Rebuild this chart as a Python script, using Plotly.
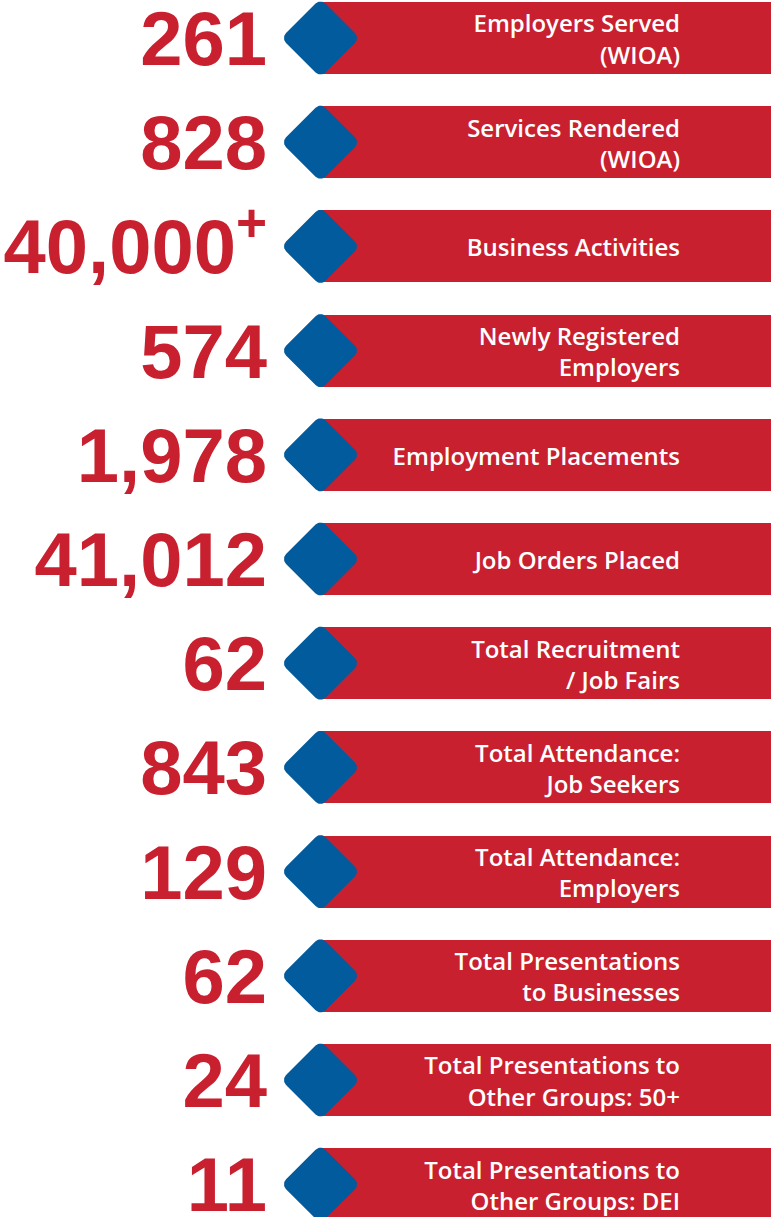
import numpy as np
import plotly.graph_objects as go

# ---- data ----
values = ["261", "828", "40,000<sup>+</sup>", "574", "1,978", "41,012", "62",
          "843", "129", "62", "24", "11"]
labels = ["Employers Served<br>(WIOA)",
          "Services Rendered<br>(WIOA)",
          "Business Activities",
          "Newly Registered<br>Employers",
          "Employment Placements",
          "Job Orders Placed",
          "Total Recruitment<br>/ Job Fairs",
          "Total Attendance:<br>Job Seekers",
          "Total Attendance:<br>Employers",
          "Total Presentations<br>to Businesses",
          "Total Presentations to<br>Other Groups: 50+",
          "Total Presentations to<br>Other Groups: DEI"]

# ---- styling / layout constants ----
RED = "#C9202F"
BLUE = "#015B9D"
W, H = 771, 1217
ROW_PX = 104.2          # pixels per row unit
TOP_PX = 38             # centre of first row in pixels
BAR_PX = 72             # bar height in pixels
X_NUM = 267             # right edge of numbers
X_DIA = 320.5           # diamond centre
X_LAB = 680             # right edge of labels
NUM_SHIFT_PX = 8        # optical shift of digits (cap-centre vs text box)
LAB_SHIFT_PX = 4

n = len(values)
idx = np.arange(n)

y_top = -TOP_PX / ROW_PX
y_bot = (H - TOP_PX) / ROW_PX

fig = go.Figure()

# red banners
fig.add_trace(go.Bar(
    orientation="h", y=idx, x=[W + 20 - X_DIA] * n, base=X_DIA,
    width=BAR_PX / ROW_PX, marker=dict(color=RED, line=dict(width=0)),
    hoverinfo="skip", showlegend=False))

# rounded diamonds
def rounded_diamond(tip=36.5, r=7.0, npts=12):
    h = (tip - r) / np.sqrt(2) + r
    c = h - r
    pts = []
    for cx, cy, a0 in [(c, c, 0), (-c, c, 90), (-c, -c, 180), (c, -c, 270)]:
        for t in np.linspace(a0, a0 + 90, npts):
            tr = np.radians(t)
            pts.append((cx + r * np.cos(tr), cy + r * np.sin(tr)))
    pts.append(pts[0])
    pts = np.array(pts)
    rot = np.radians(45)
    xr = pts[:, 0] * np.cos(rot) - pts[:, 1] * np.sin(rot)
    yr = pts[:, 0] * np.sin(rot) + pts[:, 1] * np.cos(rot)
    return xr, yr

dx, dy = rounded_diamond()
xs, ys = [], []
for i in idx:
    xs += list(X_DIA + dx) + [None]
    ys += list(i + dy / ROW_PX) + [None]
fig.add_trace(go.Scatter(x=xs, y=ys, mode="lines", fill="toself",
                         fillcolor=BLUE, line=dict(width=0, color=BLUE),
                         hoverinfo="skip", showlegend=False))

# big numbers
fig.add_trace(go.Scatter(
    x=[X_NUM] * n, y=idx + NUM_SHIFT_PX / ROW_PX, mode="text", text=values,
    textposition="middle left",
    textfont=dict(family="Liberation Sans, Arial", size=76, color=RED,
                  weight="bold"),
    hoverinfo="skip", showlegend=False))

# labels
fig.add_trace(go.Scatter(
    x=[X_LAB] * n, y=idx + LAB_SHIFT_PX / ROW_PX, mode="text", text=labels,
    textposition="middle left",
    textfont=dict(family="Open Sans", size=24, color="white", weight=600),
    hoverinfo="skip", showlegend=False))

fig.update_layout(
    width=W, height=H, margin=dict(l=0, r=0, t=0, b=0),
    paper_bgcolor="white", plot_bgcolor="white",
    xaxis=dict(range=[0, W], visible=False, fixedrange=True),
    yaxis=dict(range=[y_bot, y_top], visible=False, fixedrange=True),
    bargap=0,
)

fig.write_html("out.html", config={"displayModeBar": False},
               post_script="document.body.style.margin='0';"
                           "document.body.style.overflow='hidden';")
